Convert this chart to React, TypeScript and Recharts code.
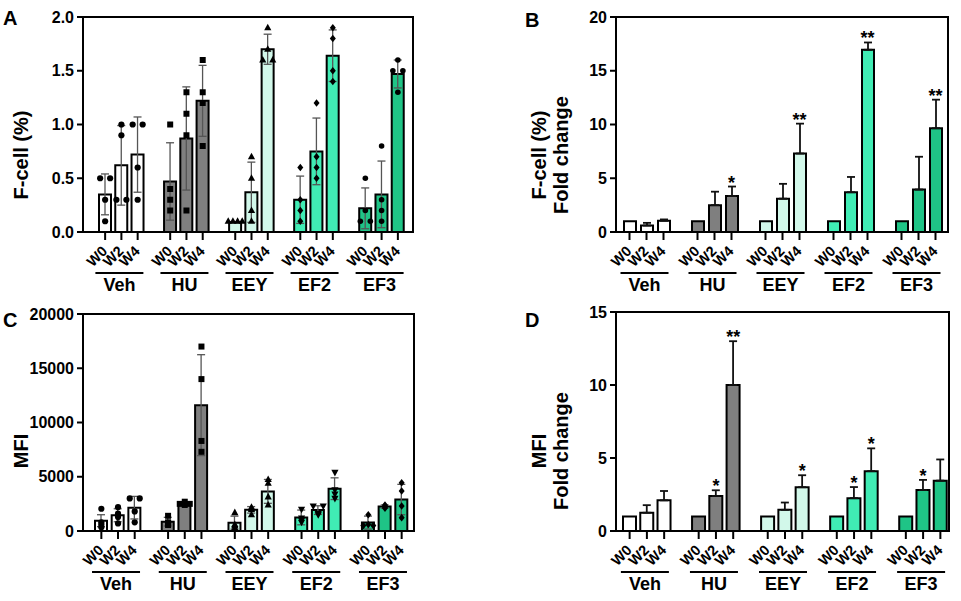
import React from "react";
import { Bar, Cell, ComposedChart, ErrorBar, Scatter, XAxis, YAxis } from "recharts";

const FONT = "Arial, 'Liberation Sans', Helvetica, sans-serif";

const GROUPS = ["Veh", "HU", "EEY", "EF2", "EF3"];
const WEEKS = ["W0", "W2", "W4"];
const GROUP_FILLS = ["#ffffff", "#7f7f7f", "#d2f8ea", "#40ecb4", "#1fc486"];

// A: F-cell (%)
const fcellMean = [0.35, 0.62, 0.72, 0.47, 0.87, 1.22, 0.09, 0.37, 1.7, 0.3, 0.75, 1.64, 0.22, 0.35, 1.47];
const fcellSd = [0.19, 0.37, 0.35, 0.36, 0.48, 0.33, 0, 0.28, 0.14, 0.22, 0.31, 0.24, 0.19, 0.31, 0.13];
const fcellDots = [
  [0.5, 0.5, 0.3, 0.1], [1.0, 0.9, 0.3, 0.3], [1.0, 1.0, 0.6, 0.3],
  [1.0, 0.4, 0.3, 0.2], [1.3, 1.1, 0.9, 0.2], [1.6, 1.3, 1.2, 0.8],
  [0.1, 0.1, 0.1, 0.1], [0.7, 0.5, 0.2, 0.1], [1.9, 1.7, 1.6, 1.6],
  [0.6, 0.3, 0.2, 0.1], [1.2, 0.7, 0.6, 0.5], [1.9, 1.8, 1.5, 1.4],
  [0.5, 0.2, 0.1, 0.1], [0.8, 0.3, 0.2, 0.1], [1.6, 1.5, 1.5, 1.3],
];
const fcellTicks = [0, 0.5, 1, 1.5, 2];
const fcellTickLabels = ["0.0", "0.5", "1.0", "1.5", "2.0"];
const fcellMarkers = ["circle", "square", "triangle", "diamond", "hexagon"];

// B: F-cell fold change
const fcellFoldMean = [1.0, 0.6, 1.05, 1.0, 2.5, 3.35, 1.0, 3.1, 7.3, 1.0, 3.7, 16.95, 1.0, 3.95, 9.65];
const fcellFoldSd = [0, 0.25, 0.12, 0, 1.25, 0.88, 0, 1.38, 2.78, 0, 1.42, 0.68, 0, 3.05, 2.66];
const fcellFoldStars = ["", "", "", "", "", "*", "", "", "**", "", "", "**", "", "", "**"];
const foldTicksB = [0, 5, 10, 15, 20];

// C: MFI
const mfiMean = [950, 1450, 2150, 860, 2525, 11600, 770, 1950, 3650, 1250, 1925, 3900, 775, 2250, 2900];
const mfiSd = [550, 600, 1040, 400, 120, 4650, 600, 300, 1100, 680, 400, 1000, 600, 150, 1400];
const mfiDots = [
  [2050, 800, 600, 350], [2200, 1600, 1300, 700], [3000, 3000, 1800, 800],
  [1400, 800, 700, 550], [2700, 2500, 2500, 2400], [17000, 14000, 8300, 7300],
  [1700, 600, 500, 300], [2200, 2100, 2000, 1500], [4750, 4400, 3150, 2400],
  [2000, 1200, 1000, 800], [2300, 2300, 1600, 1500], [5400, 3800, 3400, 3000],
  [1500, 600, 500, 500], [2400, 2300, 2200, 2100], [4450, 3690, 2300, 1230],
];
const mfiTicks = [0, 5000, 10000, 15000, 20000];
const mfiMarkers = ["circle", "square", "triangle", "triangleDown", "diamond"];

// D: MFI fold change
const mfiFoldMean = [1.0, 1.25, 2.1, 1.0, 2.4, 10.0, 1.0, 1.45, 3.0, 1.0, 2.25, 4.1, 1.0, 2.8, 3.45];
const mfiFoldSd = [0, 0.52, 0.64, 0, 0.39, 3.0, 0, 0.5, 0.82, 0, 0.76, 1.56, 0, 0.7, 1.45];
const mfiFoldStars = ["", "", "", "", "*", "**", "", "", "*", "", "*", "*", "", "*", ""];
const foldTicksD = [0, 5, 10, 15];

function buildRows(
  mean: number[],
  sd: number[],
  opts: { dots?: number[][]; stars?: string[]; upperOnly?: boolean }
) {
  const rows: any[] = [];
  GROUPS.forEach((g, gi) => {
    WEEKS.forEach((w, wi) => {
      const i = gi * 3 + wi;
      const row: any = { name: `${g} ${w}`, group: g, week: w, gi, fill: GROUP_FILLS[gi], mean: mean[i] };
      if (sd[i] > 0) row.err = opts.upperOnly ? [0, sd[i]] : sd[i];
      if (opts.dots) {
        row.dots = opts.dots[i];
        opts.dots[i].forEach((v, k) => (row[`d${k}`] = v));
      }
      if (opts.stars && opts.stars[i]) {
        row.star = opts.stars[i];
        row.starY = mean[i] + sd[i];
      }
      rows.push(row);
    });
    if (gi < GROUPS.length - 1) rows.push({ name: `gap${gi}` });
  });
  return rows;
}

function GroupTick(props: any) {
  const { x, y, payload } = props;
  const name = String(payload?.value ?? "");
  if (name.startsWith("gap")) return <g />;
  const [group, week] = name.split(" ");
  return (
    <g>
      <line x1={x} x2={x} y1={y} y2={y + 8} stroke="#000" strokeWidth={2} />
      <text
        transform={`translate(${x + 3},${y + 20}) rotate(-45)`}
        textAnchor="end"
        fontSize={14.5}
        fontWeight="bold"
        fill="#000"
      >
        {week}
      </text>
      {week === "W2" && (
        <g>
          <line x1={x - 26} x2={x + 22} y1={y + 41} y2={y + 41} stroke="#000" strokeWidth={2} />
          <text x={x - 2} y={y + 59} textAnchor="middle" fontSize={18} fontWeight="bold" fill="#000">
            {group}
          </text>
        </g>
      )}
    </g>
  );
}

function marker(kind: string, cx: number, cy: number) {
  switch (kind) {
    case "square":
      return <rect x={cx - 3} y={cy - 3} width={6} height={6} fill="#000" />;
    case "triangle":
      return <polygon points={`${cx},${cy - 4} ${cx - 3.6},${cy + 2.6} ${cx + 3.6},${cy + 2.6}`} fill="#000" />;
    case "triangleDown":
      return <polygon points={`${cx},${cy + 4} ${cx - 3.6},${cy - 2.6} ${cx + 3.6},${cy - 2.6}`} fill="#000" />;
    case "diamond":
      return <polygon points={`${cx},${cy - 3.8} ${cx + 3},${cy} ${cx},${cy + 3.8} ${cx - 3},${cy}`} fill="#000" />;
    case "hexagon":
      return <circle cx={cx} cy={cy} r={2.8} fill="#000" />;
    default:
      return <circle cx={cx} cy={cy} r={3.1} fill="#000" />;
  }
}

function makeDotShape(k: number, markers: string[]) {
  return (p: any) => {
    const { cx, cy, payload } = p;
    if (!payload || !payload.dots || !Number.isFinite(cx) || !Number.isFinite(cy)) return <g />;
    const dots: number[] = payload.dots;
    const v = dots[k];
    const same = dots.map((d, i) => (d === v ? i : -1)).filter((i) => i >= 0);
    const n = same.length;
    const spacing = n > 1 ? Math.min(10, 14 / (n - 1)) : 0;
    const dx = (same.indexOf(k) - (n - 1) / 2) * spacing;
    return marker(markers[payload.gi], cx + dx, cy);
  };
}

function StarShape(p: any) {
  const { cx, cy, payload } = p;
  if (!payload || !payload.star || !Number.isFinite(cy)) return <g />;
  return (
    <text x={cx} y={cy + 2} textAnchor="middle" fontSize={18} fontWeight="bold" fill="#000">
      {payload.star}
    </text>
  );
}

const axisStroke = { stroke: "#000", strokeWidth: 2 };

function Panel(props: {
  rows: any[];
  left: number;
  top: number;
  width: number;
  height: number;
  margin: { top: number; right: number; bottom: number; left: number };
  yAxisWidth: number;
  xAxisHeight: number;
  xPad: { left: number; right: number };
  yTicks: number[];
  yTickLabels?: string[];
  markers?: string[];
  errColor: string;
  errStroke: number;
  barSize: number;
}) {
  const { rows, yTicks, yTickLabels, markers, margin } = props;
  // plot-area frame (top and right edges of the box)
  const px = margin.left + props.yAxisWidth;
  const py = margin.top;
  const pw = props.width - margin.right - px;
  const ph = props.height - margin.bottom - props.xAxisHeight - py;
  return (
    <div style={{ position: "absolute", left: props.left, top: props.top, width: props.width, height: props.height }}>
      <ComposedChart width={props.width} height={props.height} data={rows} margin={margin}>
        <XAxis
          dataKey="name"
          interval={0}
          tickSize={0}
          tickMargin={0}
          height={props.xAxisHeight}
          padding={props.xPad}
          axisLine={axisStroke}
          tickLine={false}
          tick={(p: any) => <GroupTick {...p} />}
        />
        <YAxis
          type="number"
          domain={[yTicks[0], yTicks[yTicks.length - 1]]}
          ticks={yTicks}
          interval={0}
          width={props.yAxisWidth}
          axisLine={axisStroke}
          tickLine={axisStroke}
          tickSize={6}
          tickMargin={3}
          tick={{ fill: "#000", fontSize: 16, fontWeight: "bold" }}
          tickFormatter={(v: number, i: number) => (yTickLabels ? yTickLabels[i] : String(v))}
        />
        <Bar dataKey="mean" barSize={props.barSize} stroke="#000" strokeWidth={2} isAnimationActive={false}>
          {rows.map((r, i) => (
            <Cell key={i} fill={r.fill ?? "none"} />
          ))}
          <ErrorBar dataKey="err" width={4} stroke={props.errColor} strokeWidth={props.errStroke} direction="y" />
        </Bar>
        {markers &&
          [0, 1, 2, 3].map((k) => (
            <Scatter key={k} dataKey={`d${k}`} shape={makeDotShape(k, markers)} isAnimationActive={false} />
          ))}
        <Scatter dataKey="starY" shape={StarShape} isAnimationActive={false} />
      </ComposedChart>
      <svg
        width={props.width}
        height={props.height}
        style={{ position: "absolute", left: 0, top: 0, pointerEvents: "none" }}
      >
        <polyline
          points={`${px},${py} ${px + pw},${py} ${px + pw},${py + ph}`}
          fill="none"
          stroke="#000"
          strokeWidth={2}
          strokeLinecap="square"
        />
      </svg>
    </div>
  );
}

const rowsA = buildRows(fcellMean, fcellSd, { dots: fcellDots });
const rowsB = buildRows(fcellFoldMean, fcellFoldSd, { stars: fcellFoldStars, upperOnly: true });
const rowsC = buildRows(mfiMean, mfiSd, { dots: mfiDots });
const rowsD = buildRows(mfiFoldMean, mfiFoldSd, { stars: mfiFoldStars, upperOnly: true });

export default function App() {
  const lbl = { fontSize: 20, fontWeight: "bold" as const, fill: "#000" };
  return (
    <div style={{ position: "absolute", left: 0, top: 0, width: 961, height: 601, background: "#fff", fontFamily: FONT }}>
      <Panel
        rows={rowsA}
        left={0}
        top={0}
        width={480}
        height={300}
        margin={{ top: 17, right: 67, bottom: 0, left: 0 }}
        yAxisWidth={83}
        xAxisHeight={68}
        xPad={{ left: 14, right: 7 }}
        yTicks={fcellTicks}
        yTickLabels={fcellTickLabels}
        markers={fcellMarkers}
        errColor="#555"
        errStroke={1.3}
        barSize={12}
      />
      <Panel
        rows={rowsB}
        left={480}
        top={0}
        width={481}
        height={300}
        margin={{ top: 17, right: 13, bottom: 0, left: 0 }}
        yAxisWidth={136}
        xAxisHeight={68}
        xPad={{ left: 5, right: 4 }}
        yTicks={foldTicksB}
        errColor="#111"
        errStroke={1.8}
        barSize={12}
      />
      <Panel
        rows={rowsC}
        left={0}
        top={300}
        width={480}
        height={301}
        margin={{ top: 14, right: 66, bottom: 0, left: 0 }}
        yAxisWidth={83}
        xAxisHeight={70}
        xPad={{ left: 10, right: 4 }}
        yTicks={mfiTicks}
        markers={mfiMarkers}
        errColor="#555"
        errStroke={1.3}
        barSize={12}
      />
      <Panel
        rows={rowsD}
        left={480}
        top={300}
        width={481}
        height={301}
        margin={{ top: 12, right: 12, bottom: 0, left: 0 }}
        yAxisWidth={136}
        xAxisHeight={70}
        xPad={{ left: 5, right: 0 }}
        yTicks={foldTicksD}
        errColor="#111"
        errStroke={1.8}
        barSize={13}
      />
      <svg width={961} height={601} style={{ position: "absolute", left: 0, top: 0, pointerEvents: "none" }}>
        <text x={3} y={25} fontSize={20} fontWeight="bold">A</text>
        <text x={525} y={27} fontSize={20} fontWeight="bold">B</text>
        <text x={3} y={327} fontSize={20} fontWeight="bold">C</text>
        <text x={525} y={327} fontSize={20} fontWeight="bold">D</text>
        <text transform="translate(28,155) rotate(-90)" textAnchor="middle" {...lbl}>F-cell (%)</text>
        <text transform="translate(546,155) rotate(-90)" textAnchor="middle" {...lbl}>F-cell (%)</text>
        <text transform="translate(568,155) rotate(-90)" textAnchor="middle" {...lbl}>Fold change</text>
        <text transform="translate(28,451) rotate(-90)" textAnchor="middle" {...lbl}>MFI</text>
        <text transform="translate(546,451) rotate(-90)" textAnchor="middle" {...lbl}>MFI</text>
        <text transform="translate(568,451) rotate(-90)" textAnchor="middle" {...lbl}>Fold change</text>
      </svg>
    </div>
  );
}
